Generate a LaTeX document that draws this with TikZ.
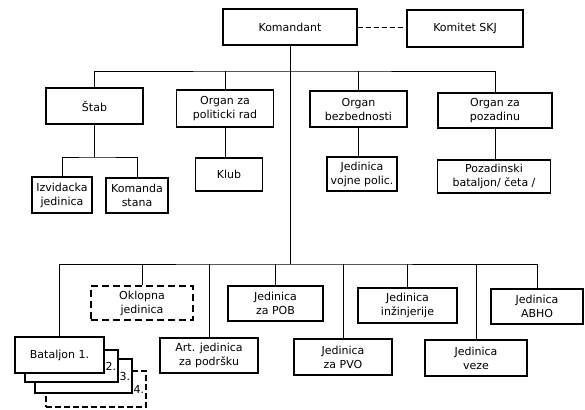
\documentclass[tikz,border=0pt]{standalone}
\usepackage{fontspec}
\setmainfont{DejaVu Sans}
\usepackage{tikz}
\usetikzlibrary{positioning}
\tikzset{x=1pt, y=-1pt,
  box/.style={draw, line width=1.2pt, fill=white, align=center, inner sep=1pt,
    font=\fontsize{11}{14}\selectfont},
  batbox/.style={box, align=right, inner sep=2pt},
  link/.style={draw, line width=0.8pt}}

\begin{document}
\begin{tikzpicture}

           \useasboundingbox (0,0) rectangle (585,409);

           \node[box, minimum width=134pt, minimum height=36pt] (kom) at (290,27) {Komandant};
           \node[box, minimum width=116pt, minimum height=37pt] (skj) at (465,28.5) {Komitet SKJ};

           \node[box, minimum width=97pt, minimum height=36pt] (stab) at (94.5,106) {Štab};
           \node[box, minimum width=97pt, minimum height=37pt] (pol) at (225,108.5) {Organ za\\politicki rad};
           \node[box, minimum width=97pt, minimum height=36pt] (bez) at (358.5,109) {Organ\\bezbednosti};
           \node[box, minimum width=114pt, minimum height=35pt] (poz) at (495,110.5) {Organ za\\pozadinu};

           \node[box, minimum width=60pt, minimum height=36pt] (izv) at (62,195) {Izvidacka\\jedinica};
           \node[box, minimum width=62pt, minimum height=35pt] (kst) at (137,195.5) {Komanda\\stana};
           \node[box, minimum width=67pt, minimum height=33pt] (klub) at (229,174.5) {Klub};
           \node[box, minimum width=70pt, minimum height=34pt] (vp) at (362,174) {Jedinica\\vojne polic.};
           \node[box, minimum width=113pt, minimum height=33pt] (pbat) at (494,176.5) {Pozadinski\\bataljon/ četa /};

           \node[batbox, text width=96pt, minimum height=36pt, dash pattern=on 6pt off 3pt] (bat4) at (96,389) {4.};
           \node[batbox, text width=93pt, minimum height=34pt] (bat3) at (83.5,376) {3.};
           \node[batbox, text width=89pt, minimum height=32pt] (bat2) at (71.5,366) {2.};
           \node[box, minimum width=89pt, minimum height=36pt] (bat1) at (59.5,355) {Bataljon 1.};

           \node[box, minimum width=102pt, minimum height=34pt, dash pattern=on 7pt off 4pt] (okl) at (142,303) {Oklopna\\jedinica};
           \node[box, minimum width=98pt, minimum height=35pt] (art) at (209,355.5) {Art. jedinica\\za podršku};
           \node[box, minimum width=95pt, minimum height=35pt] (pob) at (275.5,303.5) {Jedinica\\za POB};
           \node[box, minimum width=98pt, minimum height=36pt] (pvo) at (343,357) {Jedinica\\za PVO};
           \node[box, minimum width=99pt, minimum height=35pt] (inz) at (407.5,305.5) {Jedinica\\inžinjerije};
           \node[box, minimum width=102pt, minimum height=36pt] (veze) at (476,358) {Jedinica\\veze};
           \node[box, minimum width=92pt, minimum height=35pt] (abho) at (537,306.5) {Jedinica\\ABHO};

           \coordinate (bus1) at (290,71);
           \coordinate (bus2) at (290,264);
           \coordinate (sub1) at (94.5,157);

           \draw[link, dash pattern=on 5pt off 3pt] (kom.east) -- (kom.east -| skj.west);
           \draw[link] (kom.south) -- (bus2);
           \draw[link] (stab.north) |- (bus1) -| (poz.north);
           \draw[link] (pol.north) -- (pol.north |- bus1);
           \draw[link] (bez.north) -- (bez.north |- bus1);

           \draw[link] (stab.south) -- (sub1);
           \draw[link] (izv.north) |- (sub1) -| (kst.north);
           \draw[link] (pol.south) -- (pol.south |- klub.north);
           \draw[link] (bez.south) -- (bez.south |- vp.north);
           \draw[link] (poz.south) -- (poz.south |- pbat.north);

           \draw[link] (bat1.north) |- (bus2) -| (abho.north);
           \draw[link] (okl.north) -- (okl.north |- bus2);
           \draw[link] (art.north) -- (art.north |- bus2);
           \draw[link] (pob.north) -- (pob.north |- bus2);
           \draw[link] (pvo.north) -- (pvo.north |- bus2);
           \draw[link] (inz.north) -- (inz.north |- bus2);
           \draw[link] (veze.north) -- (veze.north |- bus2);

         \end{tikzpicture}
\end{document}
